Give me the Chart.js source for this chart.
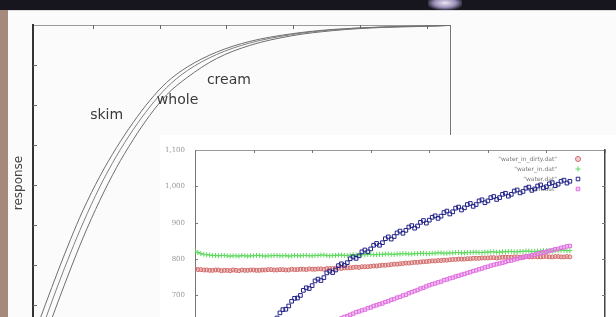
<!DOCTYPE html>
<html>
<head>
<meta charset="utf-8">
<script src="https://cdn.jsdelivr.net/npm/chart.js@4.4.0/dist/chart.umd.min.js"></script>
<style>
html,body{margin:0;padding:0;width:616px;height:317px;overflow:hidden;background:#fbfbfb}
#main{position:absolute;left:0;top:0;width:460px;height:341px}
#inset{position:absolute;left:160px;top:135px;width:456px;height:203px;background:#fff}
#topband{position:absolute;left:0;top:0;width:616px;height:10px;background:#17151d}
#glare{position:absolute;left:428px;top:0;width:34px;height:10px;background:radial-gradient(ellipse at 50% 30%,#ece6f4 0%,#9a90b8 45%,rgba(23,21,29,0) 80%)}
#edge{position:absolute;left:0;top:10px;width:616px;height:1px;background:#dcdce0}
#strip{position:absolute;left:0;top:10px;width:8px;height:307px;background:#a5897a}
canvas{filter:blur(0.3px)}
</style>
</head>
<body>
<div id="main"><canvas id="mainC"></canvas></div>
<div id="inset"><canvas id="insetC"></canvas></div>
<div id="topband"></div><div id="glare"></div><div id="edge"></div><div id="strip"></div>
<script>
// big plot: three milk curves
const milkNames = ['skim', 'whole', 'cream'];
const milkX  = [0, 3, 6, 9, 12, 16, 20, 24, 28, 32, 37, 44, 52, 62, 72, 84, 96, 100];
const skimY  = [0.217, 0.302, 0.385, 0.464, 0.537, 0.621, 0.693, 0.756, 0.811, 0.856, 0.895, 0.932, 0.959, 0.978, 0.989, 0.995, 0.998, 0.999];
const wholeY = [0.18, 0.265, 0.35, 0.43, 0.505, 0.595, 0.672, 0.738, 0.795, 0.843, 0.886, 0.926, 0.955, 0.976, 0.988, 0.995, 0.998, 0.999];
const creamY = [0.138, 0.223, 0.308, 0.39, 0.468, 0.561, 0.643, 0.713, 0.774, 0.825, 0.869, 0.916, 0.949, 0.973, 0.986, 0.994, 0.997, 0.999];
const mainXTicks = [14.4, 30.4, 46.4, 62.4, 78.4, 94.4];
const labelAt = [[13.7, 0.775], [29.7, 0.8125], [41.7, 0.8625]];

// inset plot, sampled every 5 units
const insetNames = ['"water_in_dirty.dat"', '"water_in.dat"', '"water.dat"', '"oven.dat"'];
const sampleX = [0,5,10,15,20,25,30,35,40,45,50,55,60,65,70,75,80,85,90,95,100,105,110,115,120,125,130,135,140,145,150,155,160,165,170,175,180,185,190,195,200,205,210,215,220,225,230,235,240,245,250,255,260,265,270,275,280,285,290,295,300,305,310,315,320,325,330,335,340,345,350,355,360,365,370,375,380,385,390,395,400,405,410,415,420,425,430,435,440,445,450,455,460,465,470,475,480,485,490,495,500,505,510,515,520,525,530,535,540,545,550,555,560,565,570,575,580,585,590,595,600,605,610,615,620,625,630,635,640];
const redY = [773,771,771,770,770,769,769,770,770,768,769,769,768,770,769,768,770,769,769,770,770,769,769,770,770,771,771,770,770,771,771,770,770,772,771,771,772,772,771,773,772,772,773,773,772,774,774,774,775,775,774,776,776,776,777,778,777,779,779,779,780,781,781,782,783,783,784,785,786,786,787,788,789,789,790,791,791,792,793,793,794,795,795,796,796,797,797,798,799,799,800,800,800,801,801,802,802,802,803,803,803,804,804,803,804,805,805,805,805,806,806,805,806,807,806,806,807,806,806,807,807,806,806,807,807,806,806,807,806];
const greenY = [822,818,815,813,812,811,810,810,809,810,810,809,808,809,809,808,810,809,808,809,809,810,810,809,808,809,809,810,810,809,809,810,808,809,810,809,809,810,810,809,809,810,810,811,811,810,809,810,810,811,811,810,810,811,812,811,811,812,812,813,813,812,812,813,813,814,814,813,813,814,814,815,815,814,814,815,815,816,816,815,815,816,816,817,817,816,816,817,817,818,818,817,817,818,818,819,819,818,818,819,819,820,820,819,819,820,820,821,821,820,820,821,821,822,822,821,821,822,822,823,823,822,822,823,823,824,824,823,823];
const blueX = sampleX.slice(24);
const blueY = [606,618,627,629,638,652,661,662,671,684,692,693,700,714,721,719,727,740,745,741,749,762,767,763,770,782,787,783,790,801,806,802,809,820,825,820,828,838,843,838,845,856,861,855,862,872,877,871,879,888,892,885,891,901,906,899,907,915,919,912,918,928,932,924,930,940,943,935,941,950,953,945,950,960,963,955,960,969,972,964,969,978,981,973,978,987,990,982,986,995,998,989,993,1001,1004,996,999,1007,1010,1002,1006,1014,1017,1009,1014];
const pinkX = sampleX.slice(46);
const pinkY = [622,627,630,634,637,641,643,647,650,654,656,659,661,665,667,671,673,676,678,682,684,688,690,694,696,700,702,706,709,712,715,719,721,725,728,731,733,736,738,742,744,747,749,752,754,757,759,762,764,767,769,772,774,777,779,782,784,786,788,790,792,795,796,799,800,803,804,807,808,811,812,815,816,819,820,823,824,827,828,831,832,835,836];

const pts = (xs, ys) => xs.map((x, i) => ({x, y: ys[i]}));

// gnuplot style ticks pointing into the plot
const inwardTicks = {
  id: 'inwardTicks',
  afterDraw(chart, args, o) {
    const {ctx, chartArea: a} = chart;
    ctx.save(); ctx.strokeStyle = o.color; ctx.lineWidth = 1;
    ['x', 'y'].forEach(id => {
      const s = chart.scales[id];
      s.ticks.forEach(t => {
        const p = Math.round(s.getPixelForValue(t.value)) + 0.5;
        if (p < a.top + 2 && id === 'y') return;
        ctx.beginPath();
        if (id === 'x') { ctx.moveTo(p, a.top); ctx.lineTo(p, a.top + o.len); }
        else {
          ctx.moveTo(a.left, p); ctx.lineTo(a.left + o.len, p);
          if (o.right) { ctx.moveTo(a.right, p); ctx.lineTo(a.right - o.len, p); }
        }
        ctx.stroke();
      });
    });
    ctx.restore();
  }
};

const curveLabels = {
  id: 'curveLabels',
  afterDatasetsDraw(chart) {
    const {ctx, scales: {x, y}} = chart;
    ctx.save();
    ctx.font = '14px "DejaVu Sans"'; ctx.fillStyle = '#3a3a3a'; ctx.textBaseline = 'middle';
    milkNames.forEach((n, i) => ctx.fillText(n, x.getPixelForValue(labelAt[i][0]), y.getPixelForValue(labelAt[i][1])));
    ctx.restore();
  }
};

const insetLegend = {
  id: 'insetLegend',
  beforeDatasetsDraw(chart) {
    const {ctx, chartArea: a} = chart;
    ctx.save();
    ctx.font = '6px "DejaVu Sans"'; ctx.textAlign = 'right'; ctx.textBaseline = 'middle';
    chart.data.datasets.forEach((ds, i) => {
      const yy = a.top + 9 + i * 10;
      ctx.fillStyle = '#777';
      ctx.fillText(ds.label, a.right - 48, yy);
      ctx.strokeStyle = ds.borderColor; ctx.fillStyle = ds.backgroundColor; ctx.lineWidth = 1;
      Chart.helpers.drawPoint(ctx, {pointStyle: ds.pointStyle, radius: 2.5, borderWidth: 1, rotation: 0}, a.right - 27, yy);
    });
    ctx.restore();
  }
};

const line = (label, ys, color) => ({label, data: pts(milkX, ys), borderColor: color, borderWidth: 1, pointRadius: 0, cubicInterpolationMode: 'monotone', fill: false});

new Chart(document.getElementById('mainC'), {
  type: 'line',
  data: {datasets: [line('skim', skimY, '#6e6e6e'), line('whole', wholeY, '#808080'), line('cream', creamY, '#6e6e6e')]},
  options: {
    responsive: true, maintainAspectRatio: false, animation: false,
    layout: {padding: {left: 0, right: 10, top: 0, bottom: 0}},
    plugins: {legend: {display: false}, tooltip: {enabled: false}, inwardTicks: {color: '#666', len: 4, right: false}},
    scales: {
      x: {type: 'linear', position: 'top', min: 0, max: 100,
          afterFit: s => { s.height = 25; }, afterBuildTicks: s => { s.ticks = mainXTicks.map(v => ({value: v})); },
          ticks: {display: false}, grid: {display: false}, border: {color: '#9a9a9a', width: 1}},
      y: {min: 0.21, max: 1, afterFit: s => { s.width = 33; },
          ticks: {display: false, stepSize: 0.1}, grid: {display: false}, border: {color: '#333', width: 2},
          title: {display: true, text: 'response', color: '#444', font: {family: 'DejaVu Sans', size: 12}, padding: {top: 12, bottom: 0}}},
      yR: {position: 'right', min: 0.21, max: 1, afterFit: s => { s.width = 0; },
          ticks: {display: false}, grid: {display: false}, border: {color: '#777', width: 1}}
    }
  },
  plugins: [curveLabels, inwardTicks]
});

const pset = (label, xs, ys, style, stroke, fill, r, order) => ({label, data: pts(xs, ys), showLine: false, pointStyle: style,
  pointRadius: r, pointBorderWidth: 1, borderColor: stroke, backgroundColor: fill, pointBorderColor: stroke, pointBackgroundColor: fill, order});

new Chart(document.getElementById('insetC'), {
  type: 'scatter',
  data: {datasets: [
    pset(insetNames[0], sampleX, redY, 'circle', '#d06a6a', 'rgba(220,120,120,0.35)', 2, 3),
    pset(insetNames[1], sampleX, greenY, 'cross', '#5ed85e', '#5ed85e', 2.5, 2),
    pset(insetNames[2], blueX, blueY, 'rect', '#22228a', 'rgba(0,0,0,0)', 2.6, 0),
    pset(insetNames[3], pinkX, pinkY, 'rect', '#e070e0', 'rgba(235,140,235,0.45)', 2.4, 1)
  ]},
  options: {
    responsive: true, maintainAspectRatio: false, animation: false,
    layout: {padding: {left: 0, right: 11, top: 0, bottom: 0}},
    plugins: {legend: {display: false}, tooltip: {enabled: false}, inwardTicks: {color: '#777', len: 3, right: true}},
    scales: {
      x: {type: 'linear', position: 'top', min: 0, max: 700, afterFit: s => { s.height = 15; },
          ticks: {display: false, stepSize: 100}, grid: {display: false}, border: {color: '#999', width: 1}},
      y: {min: 600, max: 1100, afterFit: s => { s.width = 35; },
          ticks: {stepSize: 100, color: '#999', padding: 2, font: {family: 'DejaVu Serif', size: 7}},
          grid: {display: false}, border: {color: '#777', width: 1}},
      yR: {position: 'right', min: 600, max: 1100, afterFit: s => { s.width = 0; },
          ticks: {display: false}, grid: {display: false}, border: {color: '#444', width: 1.5}}
    }
  },
  plugins: [insetLegend, inwardTicks]
});
</script>
</body>
</html>
